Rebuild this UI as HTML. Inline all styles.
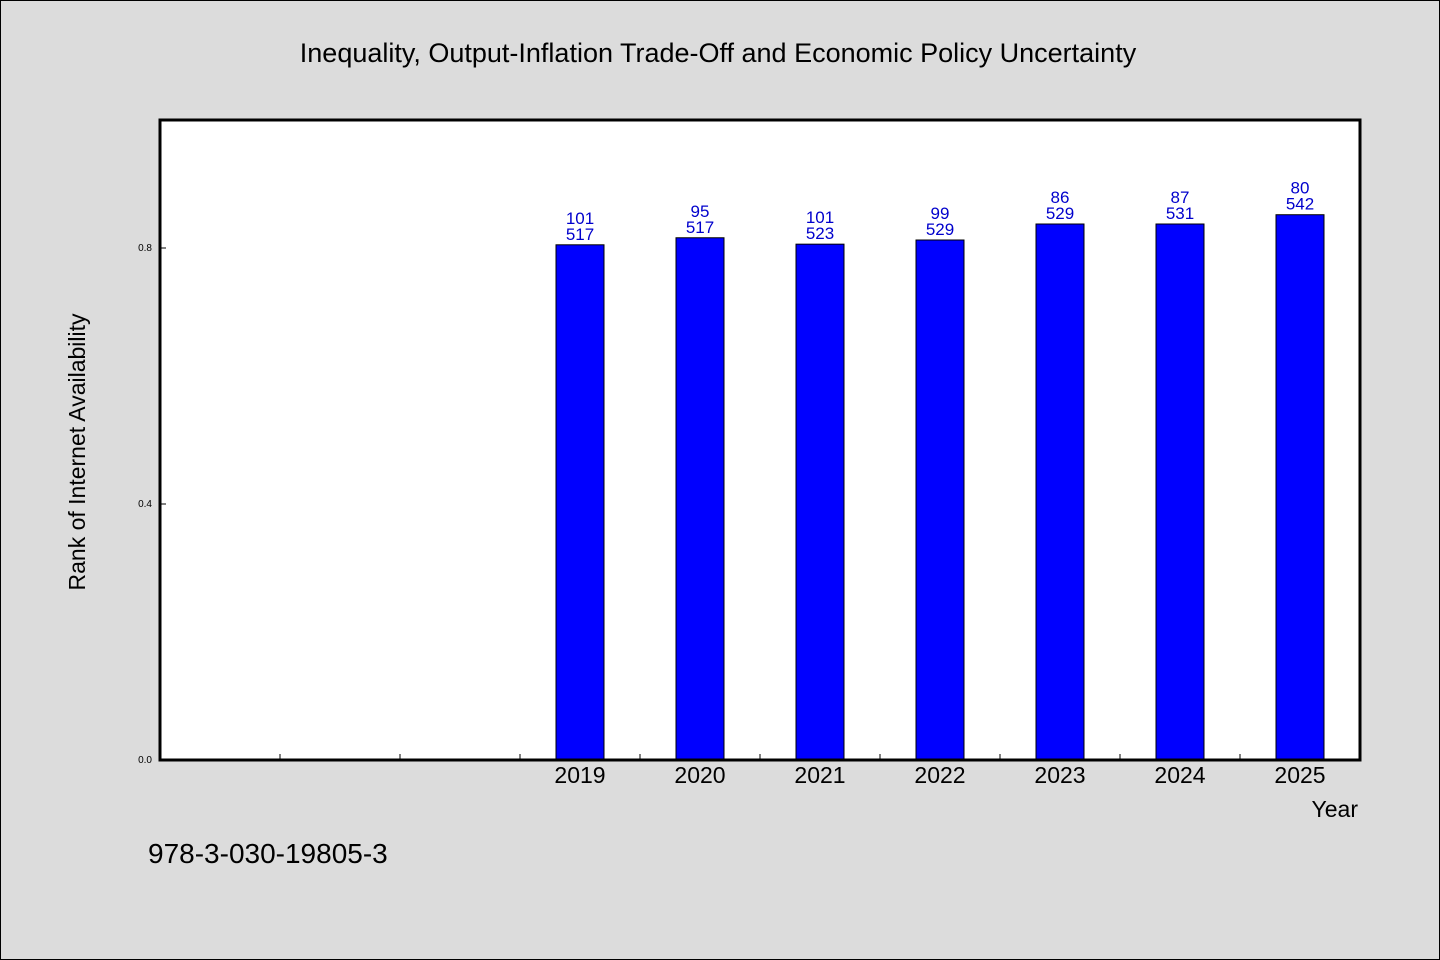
<!DOCTYPE html>
<html><head><meta charset="utf-8"><style>
body{margin:0;width:1440px;height:960px;background:#dcdcdc;overflow:hidden}
svg{display:block}
text{font-family:"WenQuanYi Zen Hei","Liberation Sans",sans-serif}
</style></head><body>
<svg id="chart" width="1440" height="960">
<rect x="0.5" y="0.5" width="1439" height="959" fill="#dcdcdc" stroke="#000"/>
<text x="718" y="62" font-size="27" text-anchor="middle">Inequality, Output-Inflation Trade-Off and Economic Policy Uncertainty</text>
<rect x="160" y="120" width="1200" height="640" fill="#fff"/>
<g id="marks"></g>
<rect x="160" y="120" width="1200" height="640" fill="none" stroke="#000" stroke-width="3"/>
<text transform="translate(85,452) rotate(-90)" font-size="23" text-anchor="middle">Rank of Internet Availability</text>
<text x="1358" y="817" font-size="23" text-anchor="end">Year</text>
<text x="148" y="863" font-size="28">978-3-030-19805-3</text>
</svg>
<script>
const categories=["","","","2019","2020","2021","2022","2023","2024","2025"];
const values=[null,null,null,0.805,0.816,0.806,0.8125,0.8375,0.8375,0.852];
const ranks=[null,null,null,"101","95","101","99","86","87","80"];
const scores=[null,null,null,"517","517","523","529","529","531","542"];
const yTicks=[0,0.4,0.8];
const yTickLabels=["0.0","0.4","0.8"];
const NS="http://www.w3.org/2000/svg";
const X0=160,W=1200,Y0=760,H=640,yMax=1.0;
const band=W/categories.length;
const xs=i=>X0+band*i+band/2;
const ys=v=>Y0-v/yMax*H;
const g=document.getElementById('marks');
function mk(t,a){const e=document.createElementNS(NS,t);for(const k in a)e.setAttribute(k,a[k]);g.appendChild(e);return e;}
yTicks.forEach((v,i)=>{
 const t=mk('line',{x1:X0,x2:X0+6,y1:ys(v),y2:ys(v),stroke:'#000'});
 
 
 const l=mk('text',{x:X0-8,y:ys(v)+3,'font-size':10,'text-anchor':'end'});
 l.textContent=yTickLabels[i];
 
 
});
for(let i=1;i<categories.length;i++){
 const t=mk('line',{x1:X0+band*i,x2:X0+band*i,y1:Y0,y2:Y0-6,stroke:'#000'});
 
 
}
categories.forEach((c,i)=>{
 if(values[i]==null)return;
 const x=xs(i),y=ys(values[i]);
 const b=mk('rect',{x:x-24,y:y,width:48,height:Y0-y,fill:'#0000ff',stroke:'#000','stroke-width':1});
 
 
 const r=mk('text',{x:x,y:y-21,'font-size':17,'text-anchor':'middle',fill:'#0000cc'});
 r.textContent=ranks[i];
 
 
 const s=mk('text',{x:x,y:y-5,'font-size':17,'text-anchor':'middle',fill:'#0000cc'});
 s.textContent=scores[i];
 
 
 const l=mk('text',{x:x,y:Y0+23,'font-size':23,'text-anchor':'middle'});
 l.textContent=c;
 
 
});
</script>
</body></html>
